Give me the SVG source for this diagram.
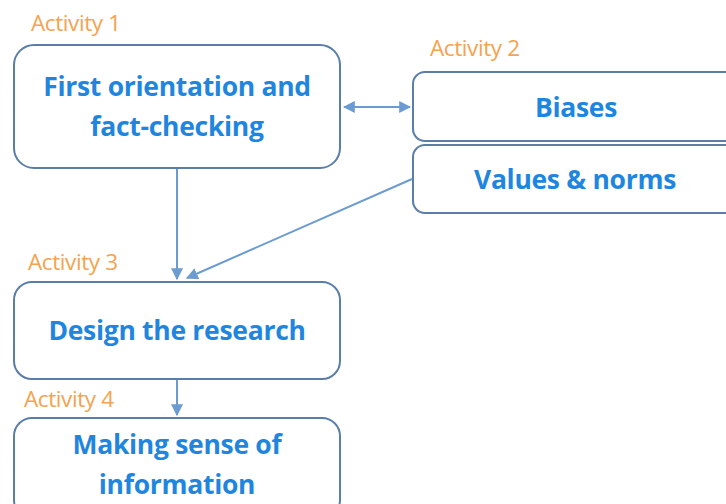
<svg xmlns="http://www.w3.org/2000/svg" width="726" height="504" viewBox="0 0 726 504">
<defs>
<style>
.box{fill:#fff;stroke:#5a7ea8;stroke-width:2}
.t{font-family:"Open Sans","Noto Sans",sans-serif;font-weight:700;font-size:26.5px;fill:#1f86e0;text-anchor:middle;letter-spacing:-0.3px}
.lab{font-family:"Open Sans","Noto Sans",sans-serif;font-size:22.5px;fill:#f5a34e;letter-spacing:-0.4px}
.c{stroke:#6b9bd1;stroke-width:2;fill:none}
</style>
<marker id="ah" viewBox="0 0 10 10" refX="9" refY="5" markerWidth="6" markerHeight="6" orient="auto-start-reverse" markerUnits="strokeWidth">
<path d="M0,0 L10,5 L0,10 z" fill="#6b9bd1"/>
</marker>
</defs>
<rect width="726" height="504" fill="#fff"/>
<g id="connectors">
<line class="c" x1="344" y1="107" x2="410" y2="107" marker-start="url(#ah)" marker-end="url(#ah)"/>
<line class="c" x1="177" y1="168" x2="177" y2="279" marker-end="url(#ah)"/>
<line class="c" x1="412" y1="179" x2="187" y2="278" marker-end="url(#ah)"/>
<line class="c" x1="177" y1="380" x2="177" y2="415" marker-end="url(#ah)"/>
</g>
<g id="activity1">
<text class="lab" x="31" y="31">Activity 1</text>
<rect class="box" x="14" y="45" width="326" height="123" rx="20"/>
<text class="t" x="177" y="96">First orientation and</text>
<text class="t" x="177" y="136">fact-checking</text>
</g>
<g id="activity2">
<text class="lab" x="430" y="56">Activity 2</text>
</g>
<g id="biases">
<rect class="box" x="413" y="72" width="330" height="69" rx="12"/>
<text class="t" x="576" y="117">Biases</text>
</g>
<g id="values">
<rect class="box" x="413" y="145" width="330" height="68" rx="12"/>
<text class="t" x="575" y="189">Values &amp; norms</text>
</g>
<g id="activity3">
<text class="lab" x="28" y="270">Activity 3</text>
<rect class="box" x="14" y="282" width="326" height="97" rx="18"/>
<text class="t" x="177" y="340">Design the research</text>
</g>
<g id="activity4">
<text class="lab" x="24" y="407">Activity 4</text>
<rect class="box" x="14" y="418" width="326" height="100" rx="18"/>
<text class="t" x="177" y="454">Making sense of</text>
<text class="t" x="177" y="494">information</text>
</g>
</svg>
